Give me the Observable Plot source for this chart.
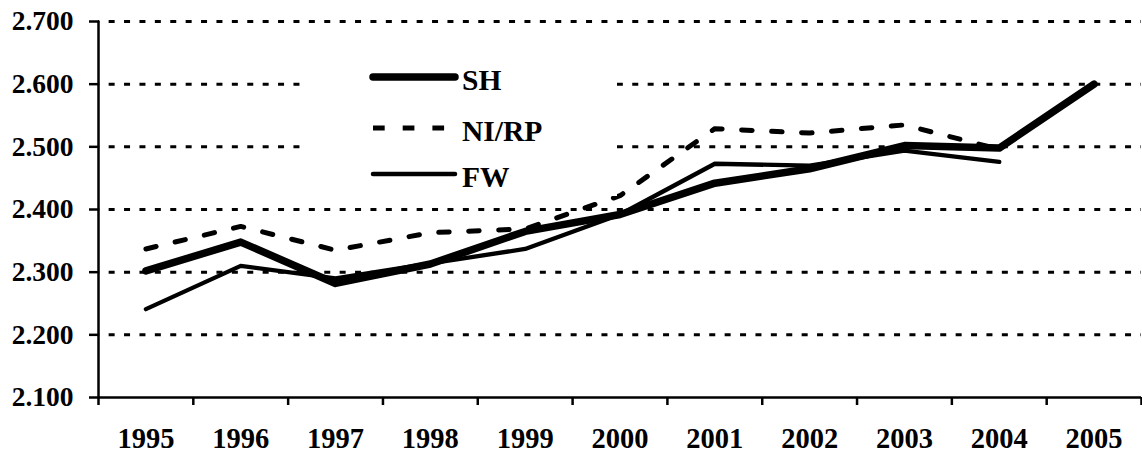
<!DOCTYPE html>
<html>
<head>
<meta charset="utf-8">
<script src="https://cdn.jsdelivr.net/npm/d3@7"></script>
<script src="https://cdn.jsdelivr.net/npm/@observablehq/plot@0.6"></script>
<style>
  html, body { margin: 0; padding: 0; background: #fff; }
  #wrap { position: relative; width: 1142px; height: 452px; }
  #legend { position: absolute; background: #fff; }
  text { font-family: "Liberation Serif", "Times New Roman", serif; font-weight: bold; }
</style>
</head>
<body>
<div id="wrap"></div>
<script>
// ---- data ----
const years = [1995, 1996, 1997, 1998, 1999, 2000, 2001, 2002, 2003, 2004, 2005];
const SH   = [2302, 2348, 2282, 2313, 2365, 2392, 2442, 2465, 2502, 2498, 2600];
const NIRP = [2337, 2373, 2335, 2363, 2369, 2422, 2529, 2522, 2535, 2496, null];
const FW   = [2241, 2310, 2290, 2314, 2337, 2392, 2473, 2470, 2494, 2476, null];
const seriesNames = ["SH", "NI/RP", "FW"];
const yTicks = [2100, 2200, 2300, 2400, 2500, 2600, 2700];
const gridValues = [2200, 2300, 2400, 2500, 2600, 2700];

const de = d3.formatLocale({decimal: ",", thousands: ".", grouping: [3], currency: ["", " €"]});
const fmt = de.format(",.0f");

const toRows = (vals) => years.map((yr, i) => ({year: yr, v: vals[i]}));
const bandEdges = d3.range(years.length + 1).map(i => years[0] - 0.5 + i);

const fontFamily = '"Liberation Serif", "Times New Roman", serif';

const chart = Plot.plot({
  width: 1142,
  height: 452,
  marginLeft: 98,
  marginRight: 1,
  marginTop: 21,
  marginBottom: 55,
  x: {domain: [years[0] - 0.5, years[years.length - 1] + 0.5]},
  y: {domain: [2100, 2700]},
  style: {fontFamily, fontWeight: "bold", fontSize: "27px", color: "black", background: "white", overflow: "visible"},
  marks: [
    Plot.ruleY(gridValues, {stroke: "black", strokeWidth: 3, strokeDasharray: "6,9.4", strokeDashoffset: 4.75}),
    Plot.axisY({ticks: yTicks, tickFormat: fmt, tickSize: 9, tickPadding: 16, strokeWidth: 2.5, fontSize: 27.5, label: null}),
    Plot.axisX({ticks: bandEdges, tickFormat: () => "", tickSize: 8, strokeWidth: 2.5, label: null}),
    Plot.axisX({ticks: years, tickFormat: d => String(d), tickSize: 0, tickPadding: 30, fontSize: 28.5, label: null}),
    Plot.ruleX([years[0] - 0.5], {stroke: "black", strokeWidth: 2.5}),
    Plot.ruleY([2100], {stroke: "black", strokeWidth: 2.5}),
    Plot.line(toRows(SH), {x: "year", y: "v", stroke: "black", strokeWidth: 7.5, strokeLinecap: "round", strokeLinejoin: "round"}),
    Plot.line(toRows(NIRP), {x: "year", y: "v", stroke: "black", strokeWidth: 5, strokeDasharray: "10.5,19.5", strokeLinejoin: "round"}),
    Plot.line(toRows(FW), {x: "year", y: "v", stroke: "black", strokeWidth: 4.3, strokeLinecap: "round", strokeLinejoin: "round"})
  ]
});

const wrap = document.getElementById("wrap");
wrap.appendChild(chart);

// ---- legend (overlay with white background) ----
const lg = d3.select(wrap).append("div").attr("id", "legend")
  .style("left", "303px").style("top", "52px").style("width", "314px").style("height", "144px");
const svg = lg.append("svg").attr("width", 314).attr("height", 144);
const styles = [
  {w: 7.5, dash: null, cap: "round"},
  {w: 5, dash: "11.7,18", cap: "butt"},
  {w: 4.5, dash: null, cap: "round"}
];
const rowY = [25, 76, 122];
seriesNames.forEach((name, i) => {
  const s = styles[i];
  svg.append("line")
    .attr("x1", 70).attr("x2", i === 1 ? 143 : 152)
    .attr("y1", rowY[i]).attr("y2", rowY[i])
    .attr("stroke", "black").attr("stroke-width", s.w)
    .attr("stroke-linecap", s.cap)
    .attr("stroke-dasharray", s.dash);
  svg.append("text")
    .attr("x", 159).attr("y", rowY[i] + 13)
    .attr("font-size", 29.5)
    .attr("fill", "black")
    .text(name);
});
</script>
</body>
</html>
